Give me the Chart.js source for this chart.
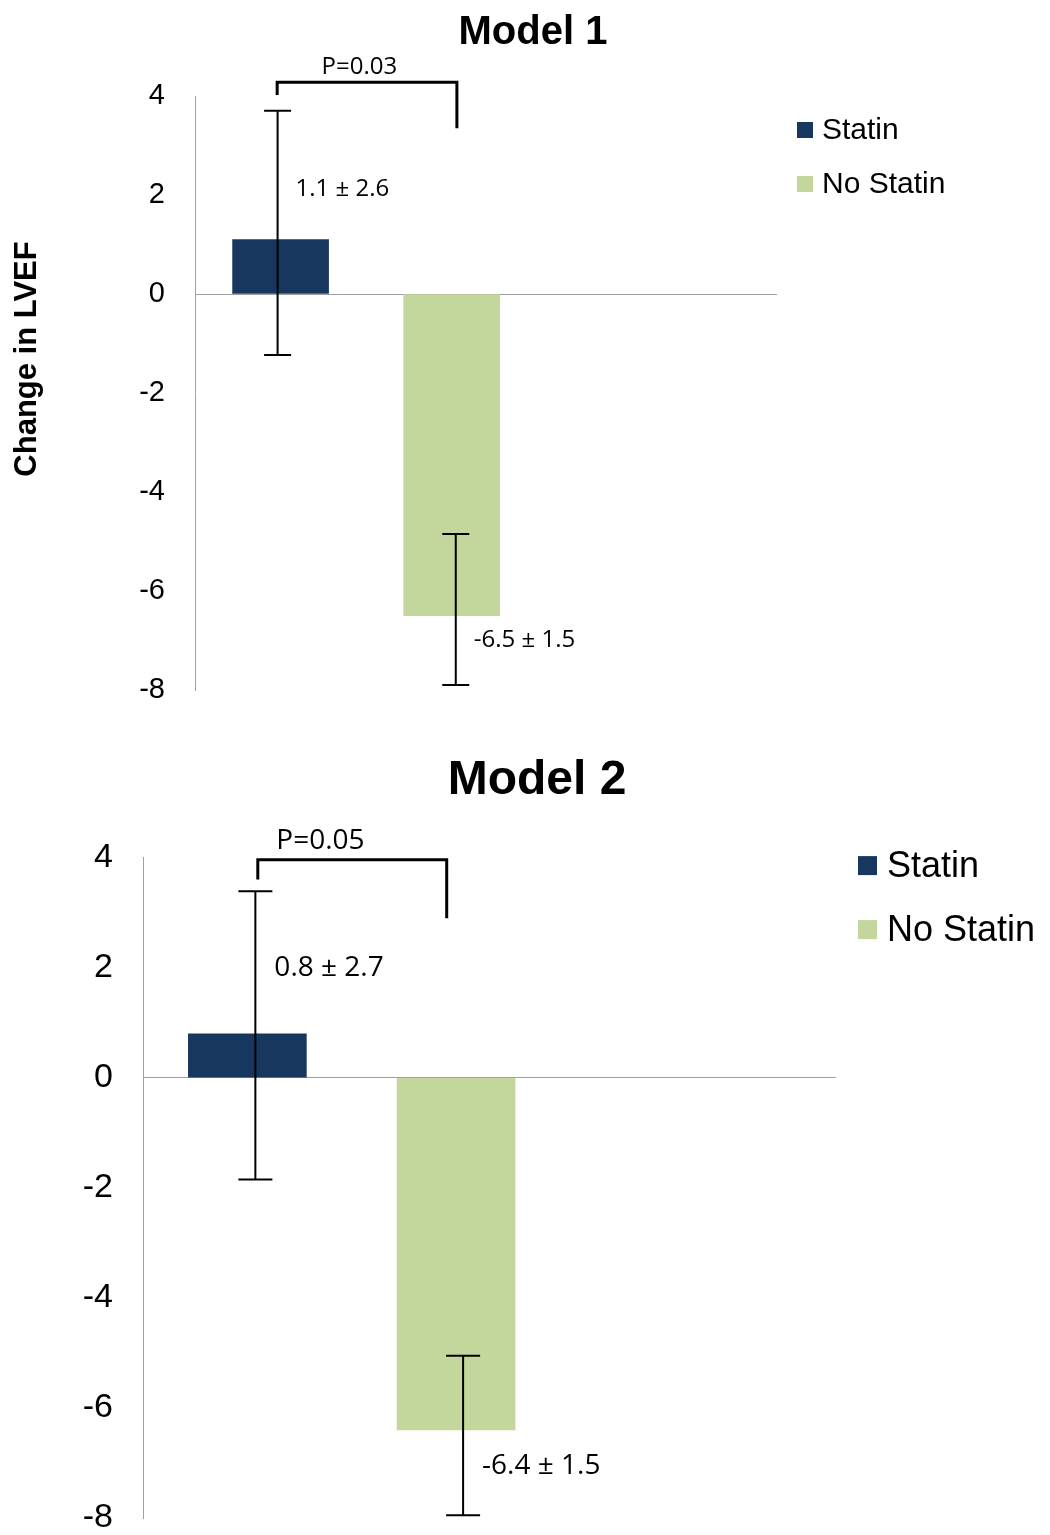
<!DOCTYPE html>
<html>
<head>
<meta charset="utf-8">
<script src="https://cdn.jsdelivr.net/npm/chart.js@4.4.1/dist/chart.umd.min.js"></script>
<style>
  html, body { margin: 0; padding: 0; background: #fff; }
  .panel { position: relative; width: 1050px; }
  #model1Wrap { height: 740px; }
  #model2Wrap { height: 797px; }
</style>
</head>
<body>
<div class="panel" id="model1Wrap"><canvas id="model1Chart"></canvas></div>
<div class="panel" id="model2Wrap"><canvas id="model2Chart"></canvas></div>
<script>
// Data
const groups = ['Statin', 'No Statin'];
const groupColors = ['#18375f', '#c3d69b'];
const yMin = -8, yMax = 4, yStep = 2;

const model1Means = [1.1, -6.5];
const model1ErrLow = [-1.23, -7.9];
const model1ErrHigh = [3.7, -4.85];
const model1Notes = ['1.1 ± 2.6', '-6.5 ± 1.5'];
const model1P = 'P=0.03';

const model2Means = [0.8, -6.4];
const model2ErrLow = [-1.85, -7.95];
const model2ErrHigh = [3.39, -5.05];
const model2Notes = ['0.8 ± 2.7', '-6.4 ± 1.5'];
const model2P = 'P=0.05';

const AXIS_GREY = '#a0a0a0';

// error bars, value notes, P bracket, legend, y title
function makeAnnotations(cfg) {
    return {
        id: 'annotations',
        afterDatasetsDraw(chart) {
            const { ctx, chartArea, scales: { x, y } } = chart;
            ctx.save();

            // error bars + value notes
            chart.data.datasets.forEach((ds, i) => {
                const bar = chart.getDatasetMeta(i).data[0];
                const cx = bar.x + cfg.errDx[i];
                const lo = y.getPixelForValue(cfg.errLow[i]);
                const hi = y.getPixelForValue(cfg.errHigh[i]);
                ctx.strokeStyle = '#000';
                ctx.lineWidth = 2;
                ctx.beginPath();
                ctx.moveTo(cx, lo); ctx.lineTo(cx, hi);
                ctx.moveTo(cx - cfg.cap / 2, lo); ctx.lineTo(cx + cfg.cap / 2, lo);
                ctx.moveTo(cx - cfg.cap / 2, hi); ctx.lineTo(cx + cfg.cap / 2, hi);
                ctx.stroke();

                ctx.fillStyle = '#000';
                ctx.font = cfg.noteFont;
                ctx.textAlign = 'left';
                ctx.textBaseline = 'middle';
                ctx.fillText(cfg.notes[i], cx + cfg.noteDx, y.getPixelForValue(cfg.noteY[i]));
            });

            // significance bracket
            const b = cfg.bracket;
            const xl = x.getPixelForValue(b.from), xr = x.getPixelForValue(b.to);
            const yt = y.getPixelForValue(b.top);
            ctx.strokeStyle = '#000';
            ctx.lineWidth = 3;
            ctx.lineJoin = 'miter';
            ctx.beginPath();
            ctx.moveTo(xl, y.getPixelForValue(b.leftEnd));
            ctx.lineTo(xl, yt);
            ctx.lineTo(xr, yt);
            ctx.lineTo(xr, y.getPixelForValue(b.rightEnd));
            ctx.stroke();
            ctx.font = cfg.noteFont;
            ctx.textAlign = 'center';
            ctx.textBaseline = 'middle';
            ctx.fillText(cfg.pText, x.getPixelForValue(b.textX), y.getPixelForValue(b.textY));

            // legend
            const lg = cfg.legend;
            ctx.font = lg.font;
            ctx.textAlign = 'left';
            chart.data.datasets.forEach((ds, i) => {
                const cy = chartArea.top + lg.rows[i];
                const bx = chartArea.right + lg.dx;
                ctx.fillStyle = ds.backgroundColor;
                ctx.fillRect(bx, cy - lg.box / 2, lg.box, lg.box);
                ctx.fillStyle = '#000';
                ctx.fillText(ds.label, bx + lg.box + lg.gap, cy + 1);
            });

            // y axis title
            if (cfg.yTitle) {
                ctx.translate(cfg.yTitle.x, cfg.yTitle.y);
                ctx.rotate(-Math.PI / 2);
                ctx.font = cfg.yTitle.font;
                ctx.textAlign = 'center';
                ctx.fillText(cfg.yTitle.text, 0, 0);
            }
            ctx.restore();
        }
    };
}

function buildChart(canvasId, cfg) {
    const ctx = document.getElementById(canvasId).getContext('2d');
    return new Chart(ctx, {
        type: 'bar',
        data: {
            datasets: groups.map((g, i) => ({
                label: g,
                data: [{ x: i + 0.5, y: cfg.means[i] }],
                backgroundColor: groupColors[i],
                borderWidth: 0,
                grouped: false,
                barThickness: cfg.barWidth
            }))
        },
        options: {
            responsive: true,
            maintainAspectRatio: false,
            animation: false,
            layout: { padding: { left: cfg.leftPad, right: 0, top: 0, bottom: cfg.bottomPad } },
            plugins: {
                legend: { display: false },
                tooltip: { enabled: false },
                title: {
                    display: true,
                    text: cfg.title,
                    color: '#000',
                    font: { family: 'Liberation Sans, Arial, sans-serif', size: cfg.titleSize, weight: 'bold' },
                    padding: cfg.titlePad
                }
            },
            scales: {
                x: {
                    type: 'linear',
                    min: 0,
                    max: cfg.xMax,
                    offset: false,
                    display: false
                },
                y: {
                    min: yMin,
                    max: yMax,
                    afterFit: (scale) => {
                        scale.width = cfg.axisX - cfg.leftPad;
                        scale.paddingTop = 0;
                        scale.paddingBottom = 0;
                    },
                    ticks: {
                        stepSize: yStep,
                        padding: 30,
                        color: '#000',
                        font: { family: 'Liberation Sans, Arial, sans-serif', size: cfg.tickSize }
                    },
                    grid: {
                        drawTicks: false,
                        color: (c) => (c.tick && c.tick.value === 0 ? AXIS_GREY : 'rgba(0,0,0,0)')
                    },
                    border: { display: true, color: AXIS_GREY, width: 1 }
                },
                // empty right-hand axis that reserves room for the legend
                legendSpace: {
                    position: 'right',
                    min: yMin,
                    max: yMax,
                    afterFit: (scale) => {
                        scale.width = cfg.rightSpace;
                        scale.paddingTop = 0;
                        scale.paddingBottom = 0;
                    },
                    ticks: { display: false },
                    grid: { display: false },
                    border: { display: false }
                }
            }
        },
        plugins: [makeAnnotations(cfg)]
    });
}

buildChart('model1Chart', {
    title: 'Model 1',
    titleSize: 40,
    titlePad: { top: 9, bottom: 39 },
    means: model1Means,
    errLow: model1ErrLow,
    errHigh: model1ErrHigh,
    errDx: [-3, 4],
    notes: model1Notes,
    noteY: [2.12, -7.0],
    noteDx: 18,
    noteFont: '24px "Open Sans", sans-serif',
    pText: model1P,
    bracket: { from: 0.48, to: 1.53, top: 4.28, leftEnd: 4.02, rightEnd: 3.35, textX: 0.96, textY: 4.59 },
    cap: 27,
    barWidth: 96,
    xMax: 3.4,
    axisX: 195,
    leftPad: 16,
    rightSpace: 273,
    bottomPad: 50,
    tickSize: 29,
    legend: { font: '30px "Liberation Sans", Arial, sans-serif', box: 16, gap: 9, dx: 20, rows: [34, 88] },
    yTitle: { text: 'Change in LVEF', x: 27, y: 359, font: 'bold 31px "Liberation Sans", Arial, sans-serif' }
});

buildChart('model2Chart', {
    title: 'Model 2',
    titleSize: 48,
    titlePad: { top: 12, bottom: 48 },
    means: model2Means,
    errLow: model2ErrLow,
    errHigh: model2ErrHigh,
    errDx: [8, 7],
    notes: model2Notes,
    noteY: [1.99, -7.05],
    noteDx: 19,
    noteFont: '28px "Open Sans", sans-serif',
    pText: model2P,
    bracket: { from: 0.55, to: 1.455, top: 3.96, leftEnd: 3.6, rightEnd: 2.9, textX: 0.85, textY: 4.31 },
    cap: 34,
    barWidth: 118,
    xMax: 3.32,
    axisX: 143,
    leftPad: 24,
    rightSpace: 214,
    bottomPad: 19,
    tickSize: 34,
    legend: { font: '36px "Liberation Sans", Arial, sans-serif', box: 19, gap: 10, dx: 22, rows: [8, 72] },
    yTitle: null
});
</script>
</body>
</html>
